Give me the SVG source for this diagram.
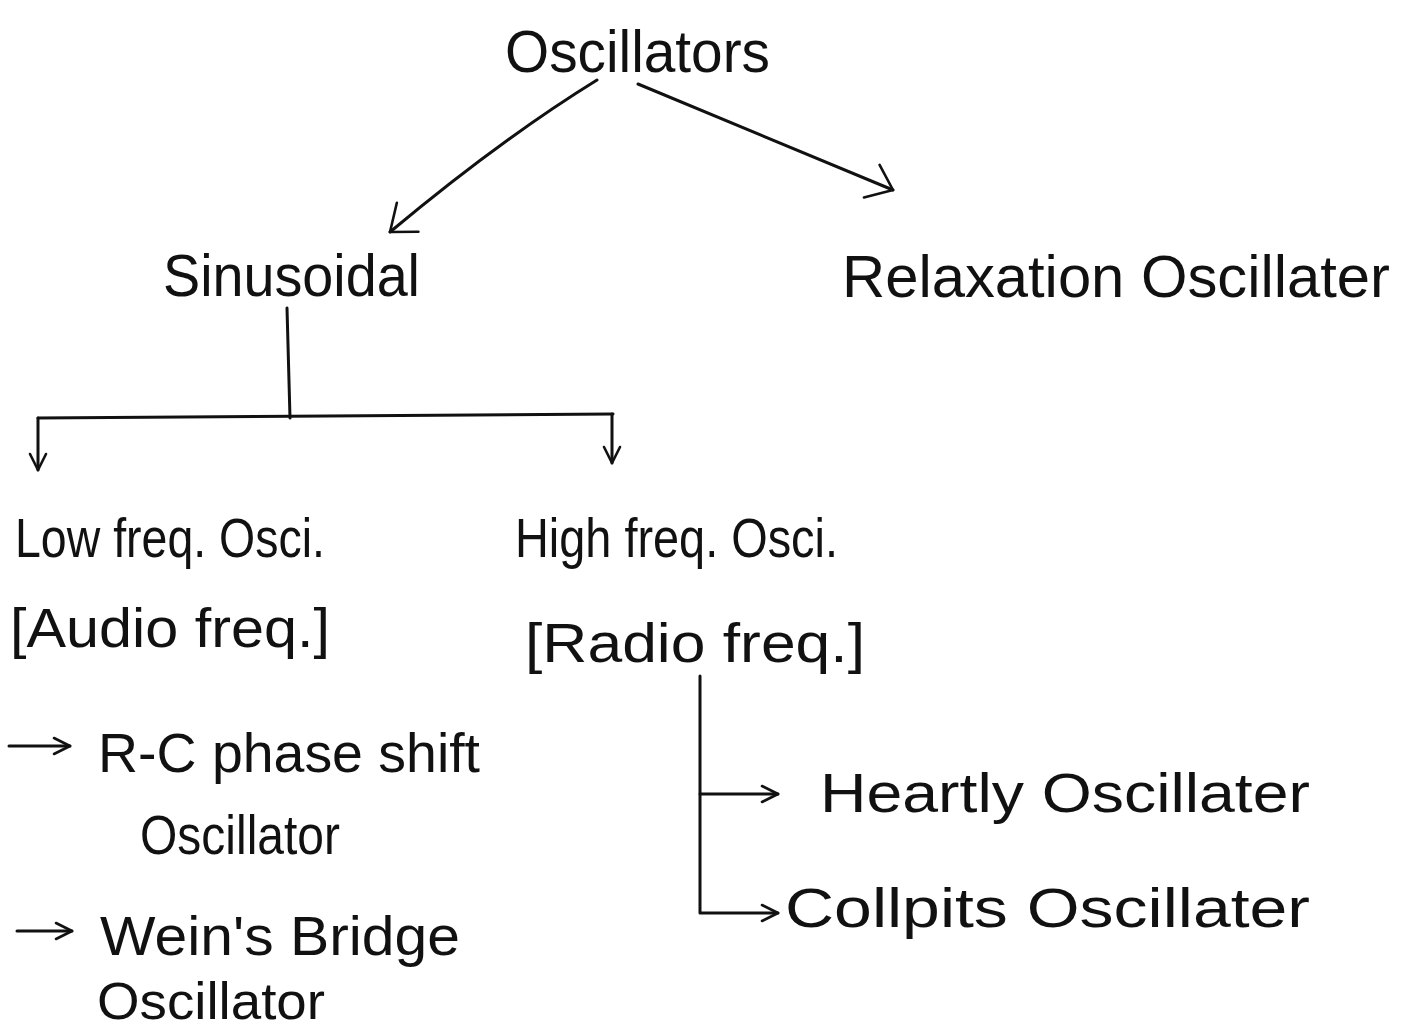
<svg xmlns="http://www.w3.org/2000/svg" width="1409" height="1036" viewBox="0 0 1409 1036">
  <style>
    .t { font-family: "Liberation Sans", "DejaVu Sans", sans-serif; fill: #111; }
    .big { font-size: 60px; }
    .mid { font-size: 55px; }
    .ln { fill: none; stroke: #111; stroke-width: 3; stroke-linecap: round; stroke-linejoin: round; }
  </style>
  <defs>
    <marker id="head" viewBox="0 0 20 20" refX="18" refY="10" markerWidth="20" markerHeight="20" markerUnits="userSpaceOnUse" orient="auto">
      <path d="M2 2 L18 10 L2 18" fill="none" stroke="#111" stroke-width="2.6" stroke-linecap="round" stroke-linejoin="round"/>
    </marker>
    <marker id="headBig" viewBox="0 0 30 40" refX="28" refY="20" markerWidth="30" markerHeight="40" markerUnits="userSpaceOnUse" orient="auto">
      <path d="M6 2 L28 20 L4 38" fill="none" stroke="#111" stroke-width="2.6" stroke-linecap="round" stroke-linejoin="round"/>
    </marker>
  </defs>

  <!-- connectors -->
  <g id="connectors">
    <path class="ln" d="M597 80 Q500 140 390 232" marker-end="url(#headBig)"/>
    <path class="ln" d="M638 84 L893 190" marker-end="url(#headBig)"/>
    <path class="ln" d="M287 308 L290 418"/>
    <path class="ln" d="M38 418 L613 414"/>
    <path class="ln" d="M38 418 L38 470" marker-end="url(#head)"/>
    <path class="ln" d="M612 414 L612 463" marker-end="url(#head)"/>
    <path class="ln" d="M700 676 L700 913 L778 913" marker-end="url(#head)"/>
    <path class="ln" d="M700 794 L778 794" marker-end="url(#head)"/>
    <path class="ln" d="M9 746 L70 746" marker-end="url(#head)"/>
    <path class="ln" d="M17 931 L72 931" marker-end="url(#head)"/>
  </g>

  <!-- nodes -->
  <g id="node-oscillators">
    <text class="t big" x="505" y="72" textLength="265" lengthAdjust="spacingAndGlyphs">Oscillators</text>
  </g>
  <g id="node-sinusoidal">
    <text class="t big" x="163" y="296" textLength="257" lengthAdjust="spacingAndGlyphs">Sinusoidal</text>
  </g>
  <g id="node-relaxation">
    <text class="t big" x="842" y="297" textLength="548" lengthAdjust="spacingAndGlyphs">Relaxation Oscillater</text>
  </g>
  <g id="node-low">
    <text class="t mid" x="15" y="557" textLength="310" lengthAdjust="spacingAndGlyphs">Low freq. Osci.</text>
    <text class="t mid" x="10" y="647" textLength="320" lengthAdjust="spacingAndGlyphs">[Audio freq.]</text>
  </g>
  <g id="node-high">
    <text class="t mid" x="515" y="557" textLength="323" lengthAdjust="spacingAndGlyphs">High freq. Osci.</text>
    <text class="t mid" x="525" y="662" textLength="340" lengthAdjust="spacingAndGlyphs">[Radio freq.]</text>
  </g>
  <g id="node-rc">
    <text class="t mid" x="98" y="772" textLength="382" lengthAdjust="spacingAndGlyphs">R-C phase shift</text>
    <text class="t mid" x="140" y="854" textLength="200" lengthAdjust="spacingAndGlyphs">Oscillator</text>
  </g>
  <g id="node-wein">
    <text class="t mid" x="100" y="955" textLength="360" lengthAdjust="spacingAndGlyphs">Wein's Bridge</text>
    <text class="t" style="font-size:52px" x="97" y="1019" textLength="228" lengthAdjust="spacingAndGlyphs">Oscillator</text>
  </g>
  <g id="node-heartly">
    <text class="t mid" x="820" y="812" textLength="490" lengthAdjust="spacingAndGlyphs">Heartly Oscillater</text>
  </g>
  <g id="node-collpits">
    <text class="t mid" x="785" y="927" textLength="525" lengthAdjust="spacingAndGlyphs">Collpits Oscillater</text>
  </g>
</svg>
